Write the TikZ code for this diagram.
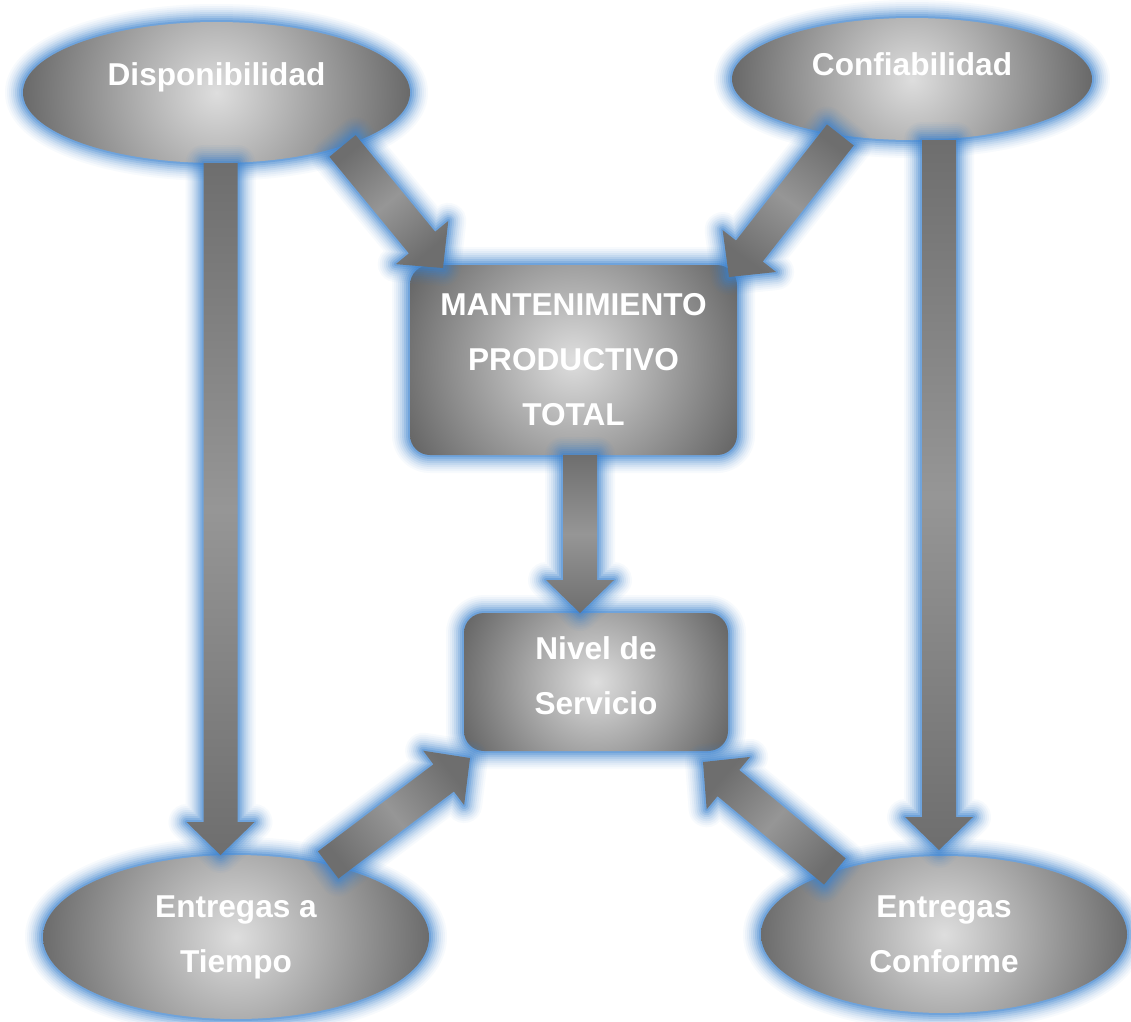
\documentclass[tikz,border=0pt]{standalone}
\usepackage{fontspec}
\setmainfont{Liberation Sans}
\usetikzlibrary{shapes.geometric,calc}
\definecolor{glowc}{RGB}{58,130,208}
\definecolor{sIn}{RGB}{222,222,222}
\definecolor{sOut}{RGB}{98,98,98}
\definecolor{aDark}{RGB}{110,110,110}
\definecolor{aLight}{RGB}{150,150,150}
\newcommand\shaftw{17pt}
\newcommand\headw{34pt}
\newcommand\headl{33pt}
\begin{document}
\begin{tikzpicture}[x=1pt,y=-1pt,
  glowline/.style 2 args={draw=glowc,draw opacity=#1,line width=#2,line join=round,line cap=round},
  glow/.style={line join=round,
    preaction={glowline={.04}{36pt}},
    preaction={glowline={.05}{32pt}},
    preaction={glowline={.06}{28pt}},
    preaction={glowline={.08}{24pt}},
    preaction={glowline={.10}{20pt}},
    preaction={glowline={.13}{16pt}},
    preaction={glowline={.17}{12pt}},
    preaction={glowline={.22}{8pt}},
    preaction={glowline={.30}{4pt}}},
  radfill/.style={path picture={
    \shade[inner color=sIn,outer color=sOut]
      let \p1=(path picture bounding box.north east),
          \p2=(path picture bounding box.center),
          \n1={veclen(\x1-\x2,\y1-\y2)} in (\p2) circle (\n1);}},
  shapebox/.style={glow, radfill, inner sep=0pt, outer sep=0pt, text=white,
    font=\fontsize{31.6}{55}\selectfont\bfseries, align=center},
  oval/.style={shapebox, ellipse},
  rbox/.style={shapebox, rectangle, rounded corners=20pt},
  arrowshade/.style={top color=aDark, bottom color=aDark, middle color=aLight, shading angle=#1},
  blockarrow/.style={glow, to path={
    ($(\tikztostart)!\shaftw!90:(\tikztotarget)$)
    -- ($(\tikztotarget)!\headl!(\tikztostart)!\shaftw!90:(\tikztotarget)$)
    -- ($(\tikztotarget)!\headl!(\tikztostart)!\headw!90:(\tikztotarget)$)
    -- (\tikztotarget)
    -- ($(\tikztotarget)!\headl!(\tikztostart)!\headw!-90:(\tikztotarget)$)
    -- ($(\tikztotarget)!\headl!(\tikztostart)!\shaftw!-90:(\tikztotarget)$)
    -- ($(\tikztostart)!\shaftw!-90:(\tikztotarget)$) -- cycle}},
]
\fill[white] (0,0) rectangle (1131,1021);
\useasboundingbox (0,0) rectangle (1131,1021);

% shapes
\node[oval, minimum width=387pt, minimum height=141pt, text depth=36.4pt] (disp) at (216.5,92.5) {Disponibilidad};
\node[oval, minimum width=360pt, minimum height=122pt, text depth=29.4pt] (conf) at (912,79) {Confiabilidad};
\node[rbox, minimum width=327pt, minimum height=190pt] (mpt) at (573.5,360) {MANTENIMIENTO\\PRODUCTIVO\\TOTAL};
\node[rbox, minimum width=264pt, minimum height=138pt] (ns) at (596,682) {Nivel de\\Servicio\rule[-13pt]{0pt}{0pt}};
\node[oval, minimum width=386pt, minimum height=164pt] (eat) at (236,937) {Entregas a\\Tiempo};
\node[oval, minimum width=366pt, minimum height=157pt] (ec) at (944,934.5) {Entregas\\Conforme};

% connector end points
\coordinate (a1s) at (disp.-23);
\coordinate (a1e) at ([shift={(33,3)}]mpt.north west);
\coordinate (a2s) at (conf.-142);
\coordinate (a2e) at ([shift={(-8,12)}]mpt.north east);
\coordinate (a3s) at ([xshift=4pt]disp.south);
\coordinate (a3e) at (a3s |- eat.north);
\coordinate (a4e) at ([xshift=-5pt,yshift=6pt]ec.north);
\coordinate (a4s) at (a4e |- conf.south);
\coordinate (a5s) at ([xshift=6.5pt]mpt.south);
\coordinate (a5e) at (a5s |- ns.north);
\coordinate (a6s) at (eat.38);
\coordinate (a6e) at ([shift={(6,7)}]ns.south west);
\coordinate (a7s) at (ec.150);
\coordinate (a7e) at ([shift={(-25,11)}]ns.south east);

% block arrows
\path[blockarrow, arrowshade=40]  (a1s) to (a1e);
\path[blockarrow, arrowshade=-36] (a2s) to (a2e);
\path[blockarrow, arrowshade=0]   (a3s) to (a3e);
\path[blockarrow, arrowshade=0]   (a4s) to (a4e);
\path[blockarrow, arrowshade=0]   (a5s) to (a5e);
\path[blockarrow, arrowshade=-52] (a6s) to (a6e);
\path[blockarrow, arrowshade=49]  (a7s) to (a7e);
\end{tikzpicture}
\end{document}
